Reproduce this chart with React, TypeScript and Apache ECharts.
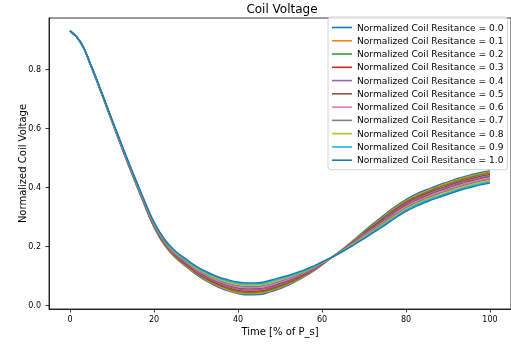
import React, { useEffect, useRef } from "react";
import * as echarts from "echarts";

const times = [0, 2.5, 5, 7.5, 10, 12.5, 15, 17.5, 20, 22.5, 25, 27.5, 30, 32.5, 35, 37.5, 40, 42.5, 45, 47.5, 50, 52.5, 55, 57.5, 60, 62.5, 65, 67.5, 70, 72.5, 75, 77.5, 80, 82.5, 85, 87.5, 90, 92.5, 95, 97.5, 100];

const resistances = ["0.0", "0.1", "0.2", "0.3", "0.4", "0.5", "0.6", "0.7", "0.8", "0.9", "1.0"];

const r00 = [0.930, 0.892, 0.810, 0.718, 0.622, 0.528, 0.437, 0.349, 0.266, 0.205, 0.164, 0.134, 0.106, 0.084, 0.065, 0.051, 0.041, 0.037, 0.038, 0.046, 0.058, 0.073, 0.092, 0.113, 0.138, 0.165, 0.192, 0.222, 0.252, 0.281, 0.309, 0.336, 0.359, 0.378, 0.393, 0.407, 0.419, 0.431, 0.441, 0.450, 0.457];
const r01 = [0.930, 0.892, 0.811, 0.719, 0.623, 0.529, 0.438, 0.350, 0.267, 0.207, 0.166, 0.136, 0.109, 0.087, 0.068, 0.054, 0.044, 0.041, 0.042, 0.049, 0.061, 0.076, 0.094, 0.115, 0.139, 0.165, 0.191, 0.220, 0.249, 0.277, 0.305, 0.332, 0.355, 0.373, 0.388, 0.403, 0.415, 0.427, 0.437, 0.446, 0.453];
const r02 = [0.930, 0.892, 0.811, 0.719, 0.624, 0.530, 0.439, 0.352, 0.269, 0.209, 0.168, 0.139, 0.112, 0.090, 0.072, 0.058, 0.048, 0.045, 0.046, 0.053, 0.065, 0.079, 0.097, 0.117, 0.140, 0.165, 0.190, 0.218, 0.247, 0.274, 0.302, 0.328, 0.351, 0.369, 0.384, 0.399, 0.411, 0.423, 0.433, 0.442, 0.449];
const r03 = [0.930, 0.892, 0.811, 0.720, 0.625, 0.531, 0.441, 0.353, 0.271, 0.211, 0.171, 0.141, 0.114, 0.093, 0.075, 0.062, 0.052, 0.049, 0.050, 0.057, 0.069, 0.083, 0.099, 0.118, 0.141, 0.165, 0.190, 0.216, 0.244, 0.271, 0.298, 0.324, 0.347, 0.365, 0.380, 0.394, 0.406, 0.418, 0.428, 0.437, 0.444];
const r04 = [0.930, 0.892, 0.812, 0.720, 0.625, 0.532, 0.442, 0.355, 0.272, 0.213, 0.173, 0.144, 0.117, 0.096, 0.079, 0.065, 0.056, 0.053, 0.054, 0.061, 0.072, 0.086, 0.102, 0.120, 0.142, 0.165, 0.189, 0.215, 0.242, 0.268, 0.295, 0.320, 0.343, 0.361, 0.376, 0.390, 0.402, 0.414, 0.424, 0.433, 0.440];
const r05 = [0.930, 0.892, 0.812, 0.721, 0.626, 0.533, 0.443, 0.356, 0.274, 0.215, 0.175, 0.146, 0.120, 0.099, 0.082, 0.069, 0.060, 0.057, 0.058, 0.065, 0.076, 0.089, 0.104, 0.122, 0.143, 0.165, 0.188, 0.213, 0.239, 0.265, 0.291, 0.316, 0.339, 0.357, 0.372, 0.386, 0.398, 0.410, 0.420, 0.429, 0.436];
const r06 = [0.930, 0.892, 0.812, 0.721, 0.627, 0.534, 0.444, 0.357, 0.276, 0.217, 0.177, 0.149, 0.123, 0.102, 0.085, 0.073, 0.064, 0.061, 0.062, 0.069, 0.080, 0.092, 0.107, 0.124, 0.144, 0.165, 0.187, 0.211, 0.237, 0.262, 0.287, 0.312, 0.335, 0.353, 0.368, 0.382, 0.394, 0.406, 0.416, 0.425, 0.432];
const r07 = [0.930, 0.892, 0.813, 0.722, 0.627, 0.535, 0.445, 0.359, 0.277, 0.219, 0.179, 0.151, 0.126, 0.105, 0.089, 0.076, 0.068, 0.065, 0.066, 0.073, 0.083, 0.095, 0.109, 0.126, 0.145, 0.165, 0.186, 0.210, 0.234, 0.259, 0.284, 0.308, 0.331, 0.349, 0.364, 0.378, 0.390, 0.402, 0.412, 0.421, 0.428];
const r08 = [0.930, 0.892, 0.813, 0.722, 0.628, 0.536, 0.447, 0.360, 0.279, 0.221, 0.182, 0.154, 0.128, 0.108, 0.092, 0.080, 0.072, 0.069, 0.070, 0.077, 0.087, 0.099, 0.112, 0.127, 0.146, 0.165, 0.186, 0.208, 0.232, 0.256, 0.280, 0.304, 0.327, 0.345, 0.360, 0.373, 0.385, 0.397, 0.407, 0.416, 0.423];
const r09 = [0.930, 0.892, 0.813, 0.723, 0.629, 0.537, 0.448, 0.362, 0.281, 0.223, 0.184, 0.156, 0.131, 0.111, 0.096, 0.084, 0.076, 0.073, 0.074, 0.081, 0.091, 0.102, 0.114, 0.129, 0.147, 0.165, 0.185, 0.206, 0.229, 0.253, 0.277, 0.300, 0.323, 0.341, 0.356, 0.369, 0.381, 0.393, 0.403, 0.412, 0.419];
const r10 = [0.930, 0.892, 0.814, 0.723, 0.630, 0.538, 0.449, 0.363, 0.283, 0.225, 0.186, 0.159, 0.134, 0.115, 0.099, 0.088, 0.080, 0.077, 0.078, 0.085, 0.095, 0.105, 0.117, 0.131, 0.148, 0.165, 0.184, 0.205, 0.227, 0.250, 0.273, 0.297, 0.319, 0.337, 0.352, 0.365, 0.377, 0.389, 0.399, 0.408, 0.415];

const seriesValues = [r00, r01, r02, r03, r04, r05, r06, r07, r08, r09, r10];

const colors = ["#1f77b4", "#ff7f0e", "#2ca02c", "#d62728", "#9467bd", "#8c564b", "#e377c2", "#7f7f7f", "#bcbd22", "#17becf", "#1f77b4"];

const xTicks = [0, 20, 40, 60, 80, 100];
const yTicks = [0, 0.2, 0.4, 0.6, 0.8];

const FONT = "DejaVu Sans";

export default function App() {
  const ref = useRef<HTMLDivElement>(null);
  useEffect(() => {
    if (!ref.current) return;
    const chart = echarts.init(ref.current, undefined, { renderer: "svg" });
    const series = seriesValues.map((vals, i) => ({
      name: "Normalized Coil Resitance = " + resistances[i],
      type: "line",
      data: times.map((t, j) => [t, vals[j]]),
      showSymbol: false,
      symbol: "none",
      smooth: 0.5,
      lineStyle: { width: 1.5, color: colors[i] },
      itemStyle: { color: colors[i] },
      z: 2 + i,
    }));
    chart.setOption({
      animation: false,
      textStyle: { fontFamily: FONT },
      title: {
        text: "Coil Voltage",
        left: 282,
        top: 3,
        textAlign: "center",
        padding: 0,
        textStyle: { fontFamily: FONT, fontSize: 12, fontWeight: "normal", color: "#000" },
      },
      legend: {
        orient: "vertical",
        left: 328,
        top: 17,
        padding: [5, 4, 4, 4],
        itemWidth: 20,
        itemHeight: 1.6,
        itemGap: 2.27,
        icon: "rect",
        backgroundColor: "rgba(255,255,255,0.8)",
        borderColor: "#d0d0d0",
        borderWidth: 1,
        borderRadius: 3,
        textStyle: { fontFamily: FONT, fontSize: 9.1, color: "#000", lineHeight: 11 },
        data: series.map((s) => s.name),
      },
      grid: {
        left: 49,
        top: 18,
        width: 466,
        height: 291,
        show: true,
        borderColor: "#000",
        borderWidth: 0.8,
        containLabel: false,
      },
      xAxis: {
        type: "value",
        min: -5,
        max: 105,
        name: "Time [% of P_s]",
        nameLocation: "middle",
        nameGap: 17,
        nameMoveOverlap: false,
        nameTextStyle: { fontFamily: FONT, fontSize: 10, color: "#000" },
        axisLine: { show: true, onZero: false, lineStyle: { color: "#000", width: 0.8 } },
        axisTick: { show: true, length: 3.5, customValues: xTicks, lineStyle: { color: "#000", width: 0.8 } },
        axisLabel: {
          customValues: xTicks,
          margin: 6,
          fontFamily: FONT,
          fontSize: 8,
          color: "#000",
          formatter: (v: number) => String(v),
        },
        splitLine: { show: false },
      },
      yAxis: {
        type: "value",
        min: -0.0112,
        max: 0.9736,
        name: "Normalized Coil Voltage",
        nameLocation: "middle",
        nameGap: 22,
        nameMoveOverlap: false,
        nameRotate: 90,
        nameTextStyle: { fontFamily: FONT, fontSize: 10, color: "#000" },
        axisLine: { show: true, onZero: false, lineStyle: { color: "#000", width: 0.8 } },
        axisTick: { show: true, length: 3.5, customValues: yTicks, lineStyle: { color: "#000", width: 0.8 } },
        axisLabel: {
          customValues: yTicks,
          margin: 8,
          fontFamily: FONT,
          fontSize: 8,
          color: "#000",
          formatter: (v: number) => v.toFixed(1),
        },
        splitLine: { show: false },
      },
      series,
    });
    return () => chart.dispose();
  }, []);
  return <div ref={ref} style={{ position: "fixed", left: 0, top: 0, width: 511, height: 344 }} />;
}
